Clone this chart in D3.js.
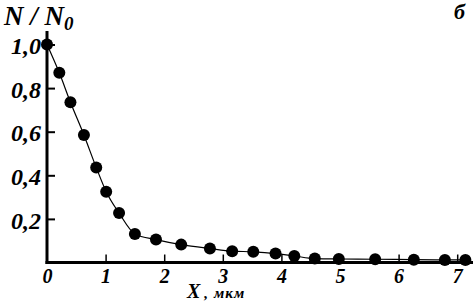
<!DOCTYPE html>
<html lang="ru">
<head>
<meta charset="UTF-8">
<title>N/N0 vs X</title>
<script src="https://d3js.org/d3.v7.min.js"></script>
<style>
  body { margin: 0; background: #fff; }
  svg { display: block; }
  text { font-family: "Liberation Serif", "Times New Roman", serif; fill: #000; }
</style>
</head>
<body>
<div id="chart"></div>
<script>
// data
const xValues = [0, 0.21, 0.40, 0.63, 0.84, 1.01, 1.23, 1.50, 1.86, 2.29, 2.78, 3.16, 3.52, 3.90, 4.22, 4.57, 4.98, 5.60, 6.26, 6.79, 7.14];
const yValues = [1.0, 0.87, 0.735, 0.585, 0.436, 0.325, 0.227, 0.131, 0.105, 0.082, 0.064, 0.052, 0.049, 0.041, 0.030, 0.018, 0.016, 0.015, 0.013, 0.012, 0.012];
const xTicks = [0, 1, 2, 3, 4, 5, 6, 7];
const yTicks = [0.2, 0.4, 0.6, 0.8, 1.0];

const width = 473, height = 302;

const svg = d3.select("#chart").append("svg")
  .attr("width", width)
  .attr("height", height);

const x = d3.scaleLinear().domain([0, 7]).range([47, 457.2]);
const y = d3.scaleLinear().domain([0, 1]).range([262.5, 44.5]);

const data = xValues.map((v, i) => ({ x: v, y: yValues[i] }));

// y axis ticks + labels
const yAxis = svg.append("g")
  .attr("transform", `translate(${x(0)},0)`)
  .call(d3.axisLeft(y).tickValues(yTicks).tickSize(-8)
    .tickFormat(d => d3.format(".1f")(d).replace(".", ",")));
yAxis.select(".domain").remove();
yAxis.selectAll(".tick line").attr("stroke", "#000").attr("stroke-width", 2);
yAxis.selectAll(".tick text")
  .attr("x", -6)
  .attr("dy", "0.38em")
  .style("font-size", "24px")
  .style("font-weight", "bold")
  .style("font-style", "italic");

// x axis ticks + labels
const xAxis = svg.append("g")
  .attr("transform", `translate(0,${y(0)})`)
  .call(d3.axisBottom(x).tickValues(xTicks).tickSize(-8).tickFormat(d3.format("d")));
xAxis.select(".domain").remove();
xAxis.selectAll(".tick line").attr("stroke", "#000").attr("stroke-width", 1.5);
xAxis.selectAll(".tick line").filter(d => d === 0).remove();
xAxis.selectAll(".tick text")
  .attr("y", 6)
  .attr("dy", "0.71em")
  .style("font-size", "20px")
  .style("font-weight", "bold")
  .style("font-style", "italic");

// axis lines
svg.append("line")
  .attr("x1", x(0)).attr("x2", x(0))
  .attr("y1", 31).attr("y2", y(0) + 1.5)
  .attr("stroke", "#000").attr("stroke-width", 3);
svg.append("line")
  .attr("x1", x(0) - 1.5).attr("x2", width)
  .attr("y1", y(0)).attr("y2", y(0))
  .attr("stroke", "#000").attr("stroke-width", 3);

// curve
svg.append("path")
  .datum(data)
  .attr("fill", "none")
  .attr("stroke", "#000")
  .attr("stroke-width", 1.2)
  .attr("d", d3.line().x(d => x(d.x)).y(d => y(d.y)).curve(d3.curveMonotoneX));

svg.selectAll(".dot")
  .data(data)
  .join("circle")
  .attr("class", "dot")
  .attr("cx", d => x(d.x))
  .attr("cy", d => y(d.y))
  .attr("r", 6)
  .attr("fill", "#000");

// titles
const yTitle = svg.append("text")
  .attr("x", 4).attr("y", 25)
  .style("font-size", "27px")
  .style("font-weight", "bold")
  .style("font-style", "italic");
yTitle.append("tspan").text("N / N");
yTitle.append("tspan").attr("dy", 5).style("font-size", "19px").text("0");

svg.append("text")
  .attr("x", 465).attr("y", 19)
  .attr("text-anchor", "end")
  .style("font-size", "22px")
  .style("font-weight", "bold")
  .style("font-style", "italic")
  .text("б");

const xTitle = svg.append("text")
  .attr("x", 187).attr("y", 298)
  .style("font-weight", "bold").style("font-style", "italic");
xTitle.append("tspan").style("font-size", "20px").text("X");
xTitle.append("tspan").attr("dx", 4).style("font-size", "15px").text(",");
xTitle.append("tspan").attr("dx", 6).style("font-size", "15px")
  .style("letter-spacing", "1px").text("мкм");
</script>
</body>
</html>
